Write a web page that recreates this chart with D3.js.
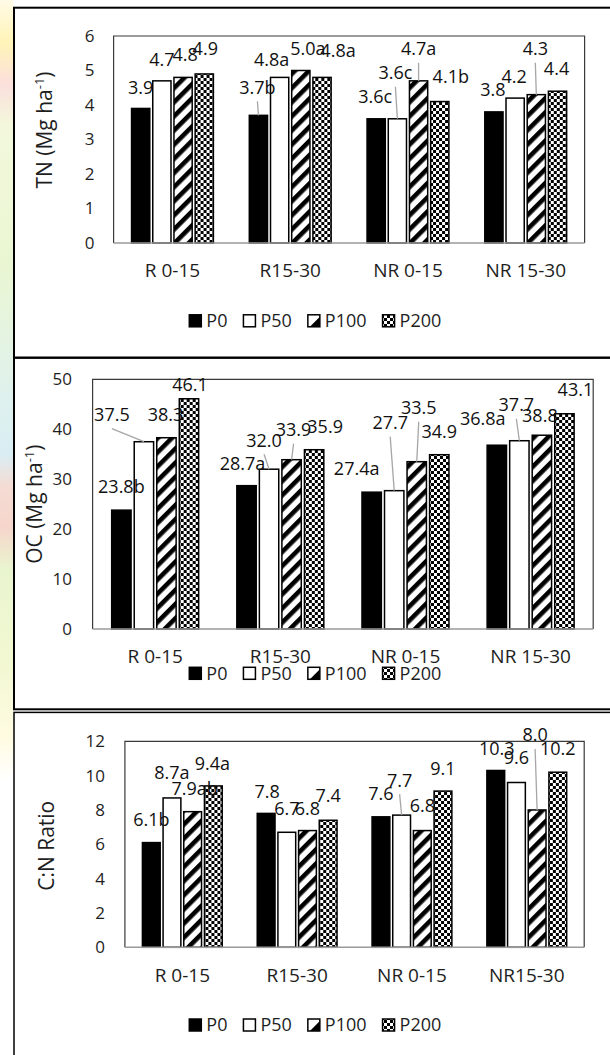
<!DOCTYPE html>
<html>
<head>
<meta charset="utf-8">
<script src="https://cdn.jsdelivr.net/npm/d3@7"></script>
<style>
  body { margin: 0; background: #fff; }
  svg { display: block; font-family: "Open Sans", sans-serif; }
</style>
</head>
<body>
<div id="chart"></div>
<script>
// series (fertiliser levels) and categories
var series = ["P0", "P50", "P100", "P200"];

var tnCategories = ["R 0-15", "R15-30", "NR 0-15", "NR 15-30"];
var ocCategories = ["R 0-15", "R15-30", "NR 0-15", "NR 15-30"];
var cnCategories = ["R 0-15", "R15-30", "NR 0-15", "NR15-30"];

// one row per category: P0, P50, P100, P200
var tnValues = [[3.9, 4.7, 4.8, 4.9], [3.7, 4.8, 5.0, 4.8], [3.6, 3.6, 4.7, 4.1], [3.8, 4.2, 4.3, 4.4]];
var tnLetters = [["", "", "", ""], ["b", "a", "a", "a"], ["c", "c", "a", "b"], ["", "", "", ""]];

var ocValues = [[23.8, 37.5, 38.3, 46.1], [28.7, 32.0, 33.9, 35.9], [27.4, 27.7, 33.5, 34.9], [36.8, 37.7, 38.8, 43.1]];
var ocLetters = [["b", "", "", ""], ["a", "", "", ""], ["a", "", "", ""], ["a", "", "", ""]];

var cnValues = [[6.1, 8.7, 7.9, 9.4], [7.8, 6.7, 6.8, 7.4], [7.6, 7.7, 6.8, 9.1], [10.3, 9.6, 8.0, 10.2]];
var cnLetters = [["b", "a", "ab", "a"], ["", "", "", ""], ["", "", "", ""], ["", "", "", ""]];

var tnTicks = [0, 1, 2, 3, 4, 5, 6];
var ocTicks = [0, 10, 20, 30, 40, 50];
var cnTicks = [0, 2, 4, 6, 8, 10, 12];

// label nudges (dx, dy from top centre of bar) - labels were dragged around in the original
var tnLabelOffsets = [[[0, -21], [0, -21], [2, -23], [1, -25]],
                      [[-1, -28], [-8, -18], [7, -22], [16, -27]],
                      [[-1, -22], [-2, -46], [0, -32], [11, -25]],
                      [[-1, -22], [-1, -22], [-1, -46], [-1, -23]]];
var ocLabelOffsets = [[[0, -24], [-32, -27], [-1, -23], [1, -14]],
                      [[-4, -22], [-5, -29], [2, -30], [11, -23]],
                      [[-15, -24], [-4, -68], [2, -54], [0, -23]],
                      [[-14, -27], [-3, -36], [-2, -20], [11, -24]]];
var cnLabelOffsets = [[[0, -23], [0, -25], [2, -23], [-1, -22]],
                      [[1, -22], [0, -24], [0, -22], [0, -25]],
                      [[0, -23], [-2, -35], [0, -25], [0, -23]],
                      [[1, -22], [0, -25], [-2, -75], [0, -24]]];

// [category, series] of labels that have a leader line
var tnLeaders = [[1, 0], [2, 1], [2, 2], [3, 2]];
var ocLeaders = [[0, 1], [1, 1], [1, 2], [2, 1], [2, 2], [3, 1]];
var cnLeaders = [[2, 1], [3, 2]];

var W = 610, H = 1055;

var svg = d3.select("#chart").append("svg")
    .attr("width", W)
    .attr("height", H);

var defs = svg.append("defs");

// wide upward diagonal
var stripe = defs.append("pattern")
    .attr("id", "stripe")
    .attr("patternUnits", "userSpaceOnUse")
    .attr("width", 10).attr("height", 10)
    .attr("patternTransform", "rotate(45)");
stripe.append("rect").attr("width", 10).attr("height", 10).attr("fill", "#fff");
stripe.append("rect").attr("width", 4.6).attr("height", 10).attr("fill", "#000");

// small checkerboard
var checker = defs.append("pattern")
    .attr("id", "checker")
    .attr("patternUnits", "userSpaceOnUse")
    .attr("width", 6).attr("height", 6);
checker.append("rect").attr("width", 6).attr("height", 6).attr("fill", "#fff");
checker.append("rect").attr("width", 3).attr("height", 3).attr("fill", "#000");
checker.append("rect").attr("x", 3).attr("y", 3).attr("width", 3).attr("height", 3).attr("fill", "#000");

// faint page colours left of the figure frame
var bg = defs.append("linearGradient").attr("id", "strip")
    .attr("x1", 0).attr("y1", 0).attr("x2", 0).attr("y2", 1);
[[0, "#fffbe6"], [0.04, "#fff4b8"], [0.08, "#fbe0dc"], [0.12, "#f3f8dc"], [0.25, "#eaf6d2"],
 [0.38, "#dff1ee"], [0.43, "#d9eef4"], [0.46, "#f4dcd4"], [0.5, "#f6d6cc"], [0.54, "#e9f5cf"],
 [0.63, "#f2f8d2"], [0.7, "#fffbe2"], [0.74, "#ffffff"], [1, "#ffffff"]]
  .forEach(function(s) { bg.append("stop").attr("offset", s[0]).attr("stop-color", s[1]); });

svg.append("rect").attr("x", 0).attr("y", 0).attr("width", 13).attr("height", H).attr("fill", "url(#strip)");

var fills = { P0: "#000", P50: "#fff", P100: "url(#stripe)", P200: "url(#checker)" };

var panels = [
  { categories: tnCategories, values: tnValues, letters: tnLetters, ticks: tnTicks,
    offsets: tnLabelOffsets, leaders: tnLeaders, title: "TN (Mg ha", sup: true,
    left: 113.6, right: 584.6, top: 36, bottom: 243, tickPad: 19,
    catY: 270, legendY: 320.8, titleX: 44, titleY: 130,
    frameTop: 7.7, frameBottom: 357.7 },
  { categories: ocCategories, values: ocValues, letters: ocLetters, ticks: ocTicks,
    offsets: ocLabelOffsets, leaders: ocLeaders, title: "OC (Mg ha", sup: true,
    left: 92.6, right: 593.2, top: 379.3, bottom: 629, tickPad: 20.6,
    catY: 656.7, legendY: 673.3, titleX: 34.5, titleY: 504.2,
    frameTop: 357.7, frameBottom: 709.3 },
  { categories: cnCategories, values: cnValues, letters: cnLetters, ticks: cnTicks,
    offsets: cnLabelOffsets, leaders: cnLeaders, title: "C:N Ratio", sup: false,
    left: 124.9, right: 584.2, top: 741.3, bottom: 947.3, tickPad: 20,
    catY: 975, legendY: 1025, titleX: 46.7, titleY: 845.8,
    frameTop: 712.4, frameBottom: 1080 }
];

panels.forEach(drawPanel);

function drawPanel(p) {
  var g = svg.append("g");

  // panel frame (right side runs off the picture)
  g.append("rect")
      .attr("x", 14).attr("y", p.frameTop)
      .attr("width", 640).attr("height", p.frameBottom - p.frameTop)
      .attr("fill", "none")
      .attr("stroke", "#000")
      .attr("stroke-width", p.frameTop > 700 ? 1.5 : 2);

  var x0 = d3.scaleBand()
      .domain(p.categories)
      .range([p.left, p.right])
      .paddingInner(0.305)
      .paddingOuter(0.1525);

  var x1 = d3.scaleBand()
      .domain(series)
      .range([0, x0.bandwidth()])
      .paddingInner(0.14);

  var y = d3.scaleLinear()
      .domain([0, d3.max(p.ticks)])
      .range([p.bottom, p.top]);

  // plot area border
  g.append("path")
      .attr("d", "M" + p.left + "," + p.bottom + "V" + p.top + "H" + p.right + "V" + p.bottom)
      .attr("fill", "none")
      .attr("stroke", "#3a3a3a")
      .attr("stroke-width", 1.2);

  // y axis
  g.append("g")
      .attr("transform", "translate(" + p.left + ",0)")
      .call(d3.axisLeft(y).tickValues(p.ticks).tickFormat(d3.format("d")).tickSize(0).tickPadding(p.tickPad))
      .call(function(a) { a.select(".domain").remove(); })
      .attr("font-family", "Open Sans, sans-serif")
      .attr("font-size", 17)
      .selectAll("text").attr("fill", "#1e1e1e");

  // x axis
  var xa = g.append("g")
      .attr("transform", "translate(0," + p.bottom + ")")
      .call(d3.axisBottom(x0).tickSize(0).tickPadding(p.catY - p.bottom - 6.7))
      .attr("font-family", "Open Sans, sans-serif")
      .attr("font-size", 19);
  xa.select(".domain").remove();
  xa.selectAll("text").attr("fill", "#1e1e1e");

  // bars
  var groups = g.selectAll(".grp")
      .data(p.categories)
    .enter().append("g")
      .attr("class", "grp")
      .attr("transform", function(c) { return "translate(" + x0(c) + ",0)"; });

  groups.selectAll("rect")
      .data(function(c, i) { return series.map(function(s, j) { return { s: s, v: p.values[i][j] }; }); })
    .enter().append("rect")
      .attr("x", function(d) { return x1(d.s); })
      .attr("y", function(d) { return y(d.v); })
      .attr("width", x1.bandwidth())
      .attr("height", function(d) { return p.bottom - y(d.v); })
      .attr("fill", function(d) { return fills[d.s]; })
      .attr("stroke", "#000")
      .attr("stroke-width", 1.5);

  // bottom axis line
  g.append("line")
      .attr("x1", p.left).attr("x2", p.right)
      .attr("y1", p.bottom).attr("y2", p.bottom)
      .attr("stroke", "#9a9a9a")
      .attr("stroke-width", 1.5);

  // data labels
  var labels = [];
  p.categories.forEach(function(c, i) {
    series.forEach(function(s, j) {
      var v = p.values[i][j];
      var bx = x0(c) + x1(s) + x1.bandwidth() / 2;
      var by = y(v);
      var off = p.offsets[i][j];
      labels.push({
        text: v.toFixed(1) + p.letters[i][j],
        bx: bx, by: by,
        lx: bx + off[0], ly: by + off[1],
        leader: p.leaders.some(function(l) { return l[0] === i && l[1] === j; })
      });
    });
  });

  g.selectAll(".leader")
      .data(labels.filter(function(d) { return d.leader; }))
    .enter().append("line")
      .attr("class", "leader")
      .attr("x1", function(d) { return d.lx; })
      .attr("y1", function(d) { return d.ly + 14; })
      .attr("x2", function(d) { return d.bx; })
      .attr("y2", function(d) { return d.by; })
      .attr("stroke", "#a6a6a6")
      .attr("stroke-width", 1.3);

  g.selectAll(".dlabel")
      .data(labels)
    .enter().append("text")
      .attr("class", "dlabel")
      .attr("x", function(d) { return d.lx; })
      .attr("y", function(d) { return d.ly; })
      .attr("dy", "0.36em")
      .attr("text-anchor", "middle")
      .attr("font-size", 18)
      .attr("fill", "#111")
      .text(function(d) { return d.text; });

  // y title
  var t = g.append("text")
      .attr("transform", "translate(" + p.titleX + "," + p.titleY + ") rotate(-90)")
      .attr("text-anchor", "middle")
      .attr("dy", "0.36em")
      .attr("font-size", 21)
      .attr("fill", "#1e1e1e");
  t.append("tspan").text(p.title);
  if (p.sup) {
    t.append("tspan").attr("font-size", 13).attr("dy", -8).text("-1");
    t.append("tspan").attr("dy", 8).text(")");
  }

  // legend
  var lx = 189.3, sz = 12;
  series.forEach(function(s) {
    var ly = p.legendY - sz / 2;
    if (s === "P100") {
      g.append("rect").attr("x", lx).attr("y", ly).attr("width", sz).attr("height", sz)
          .attr("fill", "#fff").attr("stroke", "#000").attr("stroke-width", 1.5);
      g.append("path")
          .attr("d", "M" + (lx + sz) + "," + (ly + 2) + "V" + (ly + sz) + "H" + (lx + 2) + "Z")
          .attr("fill", "#000");
    } else {
      g.append("rect").attr("x", lx).attr("y", ly).attr("width", sz).attr("height", sz)
          .attr("fill", fills[s]).attr("stroke", "#000").attr("stroke-width", 1.5);
    }
    var txt = g.append("text")
        .attr("x", lx + sz + 5)
        .attr("y", p.legendY)
        .attr("dy", "0.36em")
        .attr("font-size", 18)
        .attr("fill", "#1e1e1e")
        .text(s);
    lx = lx + sz + 5 + txt.node().getComputedTextLength() + 16;
  });
}
</script>
</body>
</html>
